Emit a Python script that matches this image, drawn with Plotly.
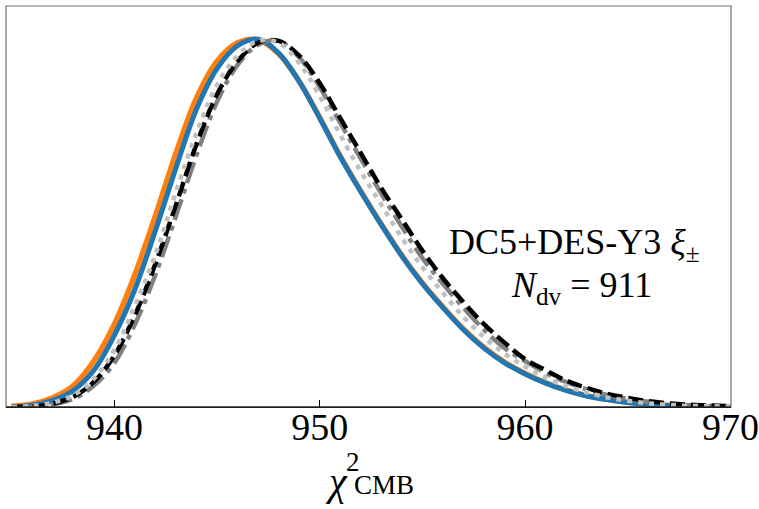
import plotly.graph_objects as go

# chi^2 grid (shared by all curves)
chi2 = list(range(935, 971))

# normalised posterior-predictive histograms
orange_vals = [0.002, 0.008, 0.025, 0.058, 0.125, 0.225, 0.36, 0.52, 0.69, 0.84,
               0.94, 0.99, 0.998, 0.96, 0.885, 0.787, 0.682, 0.587, 0.497, 0.412,
               0.337, 0.272, 0.212, 0.162, 0.122, 0.091, 0.066, 0.046, 0.031, 0.021,
               0.013, 0.008, 0.004, 0.002, 0.001, 0.0]
blue_vals = [0.0, 0.005, 0.018, 0.045, 0.1, 0.195, 0.32, 0.48, 0.65, 0.81,
             0.92, 0.982, 1.0, 0.962, 0.885, 0.785, 0.68, 0.585, 0.495, 0.41,
             0.335, 0.27, 0.21, 0.16, 0.12, 0.09, 0.065, 0.045, 0.03, 0.02,
             0.012, 0.007, 0.004, 0.002, 0.001, 0.0]
black_vals = [0.0, 0.002, 0.009, 0.028, 0.068, 0.14, 0.25, 0.39, 0.55, 0.715,
              0.85, 0.94, 0.99, 0.995, 0.955, 0.88, 0.785, 0.69, 0.595, 0.51,
              0.425, 0.35, 0.285, 0.225, 0.175, 0.13, 0.1, 0.072, 0.052, 0.036,
              0.025, 0.016, 0.01, 0.006, 0.004, 0.002]
gray_vals = [0.0, 0.001, 0.007, 0.022, 0.058, 0.12, 0.225, 0.36, 0.52, 0.685,
             0.83, 0.93, 0.985, 0.995, 0.95, 0.87, 0.772, 0.675, 0.58, 0.49,
             0.405, 0.335, 0.27, 0.21, 0.16, 0.125, 0.093, 0.068, 0.048, 0.033,
             0.022, 0.014, 0.009, 0.005, 0.003, 0.002]
silver_vals = [0.0, 0.003, 0.012, 0.032, 0.077, 0.155, 0.275, 0.415, 0.585, 0.745,
               0.875, 0.955, 0.995, 0.99, 0.935, 0.845, 0.74, 0.64, 0.55, 0.46,
               0.38, 0.31, 0.245, 0.19, 0.145, 0.11, 0.08, 0.057, 0.04, 0.026,
               0.017, 0.01, 0.006, 0.003, 0.002, 0.001]

xticks = [940, 950, 960, 970]

SERIF = "Liberation Serif, Times New Roman, Times, serif"
W, H = 759, 509
L, R, T, B = 6, 28, 6, 102


def px(x, y):
    """pixel position -> paper coords"""
    return (x - L) / (W - L - R), (H - B - y) / (H - T - B)


series = [
    (orange_vals, "#ff7f0e", 5.5, "solid"),
    (blue_vals, "#1f77b4", 5, "solid"),
    (gray_vals, "#808080", 4.5, "22px,6px,5px,6px"),
    (black_vals, "black", 4.5, "15px,6px"),
    (silver_vals, "#c0c0c0", 4.5, "5px,6px"),
]

fig = go.Figure()
for vals, color, width, dash in series:
    fig.add_trace(go.Scatter(
        x=chi2, y=vals, mode="lines",
        line=dict(color=color, width=width, dash=dash, shape="spline", smoothing=1.0),
        showlegend=False, hoverinfo="skip",
    ))

fig.update_layout(
    width=W, height=H,
    margin=dict(l=L, r=R, t=T, b=B, autoexpand=False),
    paper_bgcolor="white", plot_bgcolor="white",
    showlegend=False,
    font=dict(family=SERIF, color="black"),
)
fig.update_xaxes(
    range=[934.72, 970.03], tickvals=xticks, ticks="inside", ticklen=7,
    tickwidth=1, tickcolor="black", tickfont=dict(size=38, family=SERIF),
    ticklabelstandoff=-14,
    showgrid=False, zeroline=False, showline=True, linecolor="black", linewidth=1.2,
    automargin=False,
)
fig.update_yaxes(range=[0, 1.09], showticklabels=False, ticks="",
                 showgrid=False, zeroline=False, automargin=False)

# grey frame (top / left / right)
fig.add_shape(type="rect", xref="paper", yref="paper", x0=0, x1=1, y0=0, y1=1,
              line=dict(color="#707070", width=1.2), layer="above")
fig.add_shape(type="line", xref="paper", yref="paper", x0=0, x1=1, y0=0, y1=0,
              line=dict(color="black", width=1.2), layer="above")

ann = []
x, y = px(574, 244)
ann.append(dict(text="DC5+DES-Y3 <i>ξ</i><sub>±</sub>", x=x, y=y, font=dict(size=36)))
x, y = px(581, 287)
ann.append(dict(text="<i>N</i><sub>dv</sub> = 911", x=x, y=y, font=dict(size=36)))
# x axis label chi^2_CMB built from stacked pieces
x, y = px(336, 481)
ann.append(dict(text="<i>χ</i>", x=x, y=y, font=dict(size=40)))
x, y = px(353, 462)
ann.append(dict(text="2", x=x, y=y, font=dict(size=27)))
x, y = px(384, 485)
ann.append(dict(text="CMB", x=x, y=y, font=dict(size=27)))
for a in ann:
    fig.add_annotation(xref="paper", yref="paper", showarrow=False,
                       xanchor="center", yanchor="middle", **a)

fig.write_html("out.html", config={"displayModeBar": False},
               post_script="document.body.style.margin='0';")
